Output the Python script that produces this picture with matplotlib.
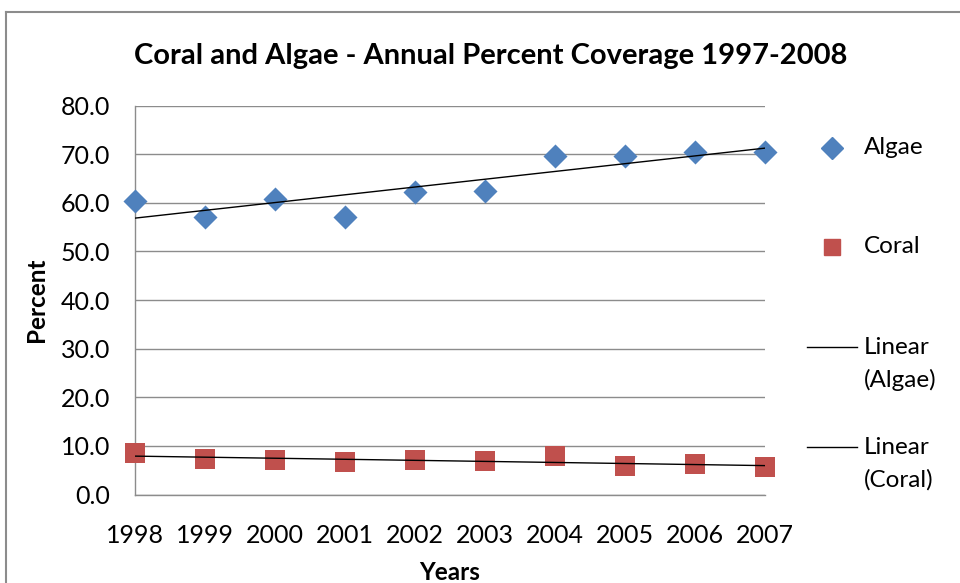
import matplotlib.pyplot as plt
from matplotlib.lines import Line2D
import numpy as np

plt.rcParams['font.family'] = ['Lato', 'DejaVu Sans']

years = [1998, 1999, 2000, 2001, 2002, 2003, 2004, 2005, 2006, 2007]
algae = [60.4, 57.2, 60.9, 57.2, 62.3, 62.5, 69.7, 69.7, 70.4, 70.4]
coral = [8.5, 7.3, 7.1, 6.7, 7.1, 6.8, 7.9, 5.9, 6.3, 5.6]
yticks = [0, 10, 20, 30, 40, 50, 60, 70, 80]

blue = '#4F81BD'
red = '#C0504D'
grid = '#8C8C8C'

W, H = 960, 583


def fx(px):
    return px / W


def fy(py):
    return 1 - py / H


fig = plt.figure(figsize=(9.6, 5.83), dpi=100)
ax = fig.add_axes([0.1406, 0.1518, 0.797 - 0.1406, 0.8187 - 0.1518])

x = np.array(years, dtype=float)

ax.scatter(x, algae, marker='D', s=150, color=blue, lw=0, zorder=3, clip_on=False)
ax.scatter(x, coral, marker='s', s=190, color=red, lw=0, zorder=3, clip_on=False)

# least-squares trend lines
for vals in (algae, coral):
    k, b = np.polyfit(x, vals, 1)
    ax.plot(x, k * x + b, color='black', lw=1, zorder=4)

ax.set_xlim(1998, 2007)
ax.set_ylim(0, 80)
ax.set_xticks(years)
ax.set_yticks(yticks)
ax.set_yticklabels(['%.1f' % v for v in yticks])
ax.tick_params(length=0, labelsize=18)
ax.tick_params(axis='x', pad=21)
ax.tick_params(axis='y', pad=18)
ax.yaxis.grid(True, color=grid, lw=1)
ax.set_axisbelow(True)
for s in ['top', 'right']:
    ax.spines[s].set_visible(False)
for s in ['left', 'bottom']:
    ax.spines[s].set_color(grid)
    ax.spines[s].set_linewidth(1)

ax.set_xlabel('Years', fontsize=17.5, fontweight='bold', labelpad=10)
ax.set_ylabel('Percent', fontsize=17.5, fontweight='bold', labelpad=9)

fig.text(fx(491), fy(56), 'Coral and Algae - Annual Percent Coverage 1997-2008',
         ha='center', va='center', fontsize=21, fontweight='bold')

# legend, Excel style: one entry per row, label lines stacked
tx = fx(864)
fig.add_artist(Line2D([fx(832)], [fy(148)], marker='D', ms=11, color=blue, lw=0))
fig.text(tx, fy(148), 'Algae', va='center', fontsize=17.5)
fig.add_artist(Line2D([fx(832)], [fy(247)], marker='s', ms=12, color=red, lw=0))
fig.text(tx, fy(247), 'Coral', va='center', fontsize=17.5)
for yy, name in [(347, 'Algae'), (447, 'Coral')]:
    fig.add_artist(Line2D([fx(807), fx(857)], [fy(yy)] * 2, color='black', lw=1))
    fig.text(tx, fy(yy), 'Linear', va='center', fontsize=17.5)
    fig.text(tx, fy(yy + 33), '(%s)' % name, va='center', fontsize=17.5)

# outer chart frame
fig.add_artist(Line2D([fx(6), 1], [fy(12)] * 2, color=grid, lw=1.5))
fig.add_artist(Line2D([fx(6)] * 2, [0, fy(12)], color=grid, lw=1.5))

fig.savefig('out.png', dpi=100)
